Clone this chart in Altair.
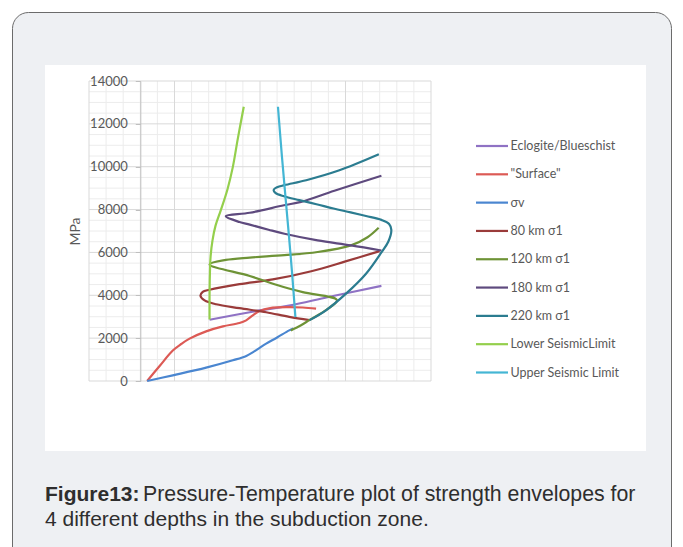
import altair as alt
import pandas as pd

# ---------------- data ----------------
series_names = ["Eclogite/Blueschist", "\"Surface\"", "σv", "80 km σ1", "120 km σ1",
                "180 km σ1", "220 km σ1", "Lower SeismicLimit", "Upper Seismic Limit"]
series_colors = ["#8f72c4", "#dc5a55", "#4a86d0", "#9a3b3a", "#6e9336",
                 "#5e4a7e", "#2b7c90", "#94cf4c", "#44b6d4"]

eclogite_T = [405, 640, 870, 1100, 1410]
eclogite_P = [2860, 3210, 3520, 3920, 4440]

surface_T = [40, 113, 190, 240, 288, 385, 483, 580, 619, 658, 697, 775, 871, 950, 1028]
surface_P = [0, 700, 1420, 1730, 1977, 2317, 2550, 2704, 2830, 3063, 3263, 3422, 3450, 3430, 3375]

sigmav_T = [40, 190, 385, 541, 620, 660, 700, 736, 800, 871, 895]
sigmav_P = [0, 265, 623, 965, 1170, 1350, 1560, 1743, 2030, 2363, 2450]

km80_T = [990, 871, 736, 580, 444, 376, 352, 365, 405, 580, 775, 1000, 1200, 1400]
km80_P = [2840, 2990, 3210, 3400, 3580, 3760, 3970, 4160, 4260, 4520, 4740, 5120, 5580, 6060]

km120_T = [880, 940, 990, 1090, 1150, 950, 800, 640, 405, 500, 640, 843, 1037, 1232, 1329, 1394]
km120_P = [2360, 2600, 2850, 3330, 3770, 4150, 4480, 4900, 5440, 5650, 5760, 5870, 6020, 6330, 6710, 7150]

km180_T = [1410, 1135, 940, 840, 640, 500, 580, 640, 750, 843, 1037, 1232, 1410]
km180_P = [9580, 8880, 8360, 8200, 7850, 7690, 7420, 7300, 7060, 6870, 6560, 6330, 6090]

km220_T = [990, 1086, 1203, 1320, 1410, 1450, 1468, 1455, 1410, 1320, 1230, 1130, 1030, 930,
           840, 790, 780, 800, 843, 970, 1160, 1395]
km220_P = [2840, 3300, 4075, 5007, 6000, 6500, 7050, 7330, 7520, 7700, 7870, 8050, 8250, 8440,
           8620, 8780, 8920, 9040, 9140, 9370, 9820, 10580]

lower_T = [405, 405, 407, 411, 422, 440, 470, 510, 541, 570, 605]
lower_P = [2870, 4000, 5000, 5800, 6550, 7250, 7950, 8950, 9980, 11300, 12800]

upper_T = [805, 828, 850, 870, 888, 907]
upper_P = [12800, 10500, 8500, 6700, 5000, 2980]

series_T = [eclogite_T, surface_T, sigmav_T, km80_T, km120_T, km180_T, km220_T, lower_T, upper_T]
series_P = [eclogite_P, surface_P, sigmav_P, km80_P, km120_P, km180_P, km220_P, lower_P, upper_P]

x_major = [-300, 200, 700, 1200, 1700]
y_major = [0, 2000, 4000, 6000, 8000, 10000, 12000, 14000]
x_minor = [-200, -100, 0, 100, 300, 400, 500, 600, 800, 900, 1000, 1100, 1300, 1400, 1500, 1600]
y_minor = [500, 1000, 1500, 2500, 3000, 3500, 4500, 5000, 5500, 6500, 7000, 7500,
           8500, 9000, 9500, 10500, 11000, 11500, 12500, 13000, 13500]

caption_bold = "Figure13:"
caption_line1 = "Pressure-Temperature plot of strength envelopes for"
caption_line2 = "4 different depths in the subduction zone."

# ---------------- chart ----------------
W, H = 342, 300
xs = alt.Scale(domain=[-300, 1700], nice=False, zero=False)
ys = alt.Scale(domain=[0, 14000], nice=False, zero=False)
one = pd.DataFrame({"k": [0]})

card = alt.Chart(one).mark_rect(fill="#eef0f3", stroke="#6b6b6b", strokeWidth=1,
                                cornerRadius=16).encode(
    x=alt.value(-76.5), x2=alt.value(582.5), y=alt.value(-68.5), y2=alt.value(500))
white = alt.Chart(one).mark_rect(fill="white").encode(
    x=alt.value(-44), x2=alt.value(557), y=alt.value(-16), y2=alt.value(370))

minor_v = alt.Chart(pd.DataFrame({"T": x_minor})).mark_rule(color="#ececec", strokeWidth=1).encode(
    x=alt.X("T:Q", scale=xs, axis=None), y=alt.value(0), y2=alt.value(H))
minor_h = alt.Chart(pd.DataFrame({"P": y_minor})).mark_rule(color="#ececec", strokeWidth=1).encode(
    y=alt.Y("P:Q", scale=ys, axis=None), x=alt.value(0), x2=alt.value(W))
major_v = alt.Chart(pd.DataFrame({"T": x_major})).mark_rule(color="#d9d9d9", strokeWidth=1).encode(
    x=alt.X("T:Q", scale=xs, axis=None), y=alt.value(0), y2=alt.value(H))
major_h = alt.Chart(pd.DataFrame({"P": y_major})).mark_rule(color="#d9d9d9", strokeWidth=1).encode(
    y=alt.Y("P:Q", scale=ys, axis=None), x=alt.value(0), x2=alt.value(W))

x_axis = alt.Axis(values=x_major, title="Temperature C", grid=False, domainColor="#bfbfbf",
                  tickColor="#bfbfbf", tickSize=5, labelPadding=7, labelFont="Lato",
                  labelFontSize=13, labelColor="#595959", labelExpr="'' + datum.value",
                  labelFlush=False, titleFont="Lato", titleFontSize=15.5, titleFontWeight="normal",
                  titleColor="#595959", titleY=46, titleBaseline="middle", zindex=1)
y_axis = alt.Axis(values=y_major, title="MPa", grid=False, offset=-51.3, domainColor="#bfbfbf",
                  tickColor="#bfbfbf", tickSize=5, labelPadding=8, labelFont="Lato",
                  labelFontSize=13, labelColor="#595959", labelExpr="'' + datum.value",
                  labelFlush=False, titleFont="Lato", titleFontSize=14, titleFontWeight="normal",
                  titleColor="#595959", titleX=-65, titleY=150, titleBaseline="middle",
                  titleAlign="center", zindex=1)

lines = []
for k, (name, c, Ts, Ps) in enumerate(zip(series_names, series_colors, series_T, series_P)):
    d = pd.DataFrame({"T": Ts, "P": Ps, "i": list(range(len(Ts)))})
    lines.append(
        alt.Chart(d).mark_line(interpolate="catmull-rom", strokeWidth=2.2, color=c).encode(
            x=alt.X("T:Q", scale=xs, axis=x_axis if k == 0 else None),
            y=alt.Y("P:Q", scale=ys, axis=y_axis if k == 0 else None),
            order=alt.Order("i:Q"))
    )

leg_df = pd.DataFrame({"series": series_names})
leg_y = alt.Y("series:N", scale=alt.Scale(type="point", domain=series_names,
                                           range=[65, 291.5], padding=0), axis=None)
color_scale = alt.Scale(domain=series_names, range=series_colors)
leg_lines = alt.Chart(leg_df).mark_rule(strokeWidth=2.2).encode(
    x=alt.value(387), x2=alt.value(419), y=leg_y,
    color=alt.Color("series:N", scale=color_scale, legend=None))
leg_text = alt.Chart(leg_df).mark_text(align="left", baseline="middle", font="Lato",
                                       fontSize=12.5, color="#595959").encode(
    x=alt.value(421.5), y=leg_y, text="series:N")

cap_b = alt.Chart(one).mark_text(text=caption_bold, font="Liberation Sans", fontSize=21,
                                 fontWeight="bold", align="left", baseline="alphabetic",
                                 color="#2e2e2e").encode(x=alt.value(-44), y=alt.value(420))
cap_1 = alt.Chart(one).mark_text(text=caption_line1, font="Liberation Sans", fontSize=21.3,
                                 align="left", baseline="alphabetic",
                                 color="#2e2e2e").encode(x=alt.value(54), y=alt.value(420))
cap_2 = alt.Chart(one).mark_text(text=caption_line2, font="Liberation Sans", fontSize=21,
                                 align="left", baseline="alphabetic",
                                 color="#2e2e2e").encode(x=alt.value(-44), y=alt.value(445))

chart = alt.layer(card, white, minor_v, minor_h, major_v, major_h, *lines,
                  leg_lines, leg_text, cap_b, cap_1, cap_2).resolve_scale(
    y="independent"
).properties(
    width=W, height=H,
    autosize=alt.AutoSizeParams(type="none"),
    padding={"left": 81, "top": 73, "right": 244, "bottom": 166},
).configure_view(stroke=None)

chart.save("out.html", embed_options={"renderer": "svg", "actions": False})
